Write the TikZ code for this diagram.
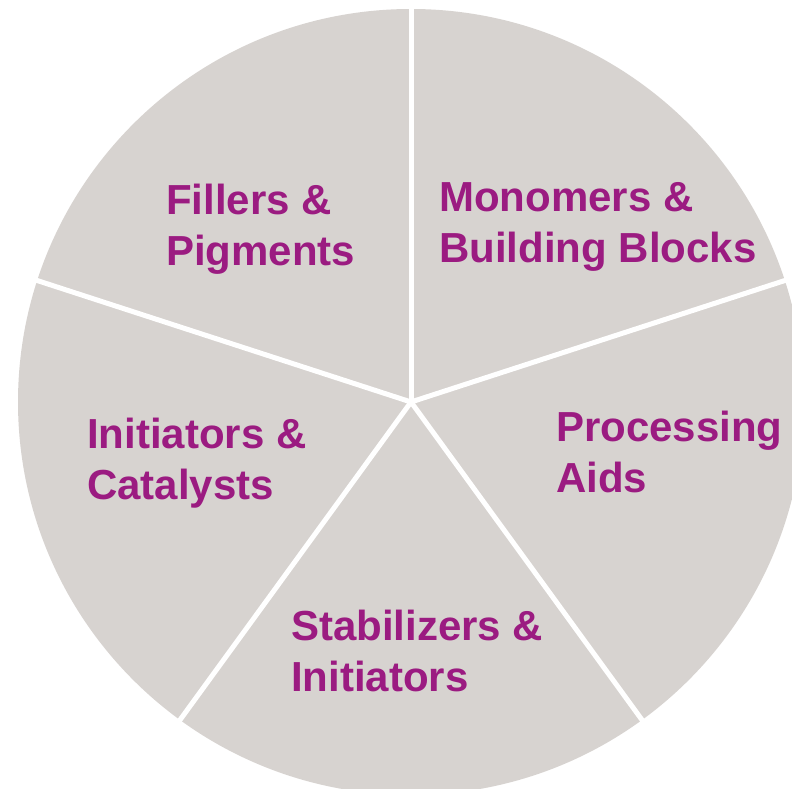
\documentclass[tikz,border=0pt]{standalone}
\usepackage{fontspec}
\setmainfont{Liberation Sans}
\definecolor{piegray}{HTML}{D7D3D0}
\definecolor{labelpurple}{HTML}{9B1B81}
\begin{document}
\begin{tikzpicture}[x=1pt,y=1pt,
  sector/.style={fill=piegray},
  divider/.style={draw=white,line width=5pt},
  label/.style={anchor=base west,inner sep=0pt,align=left,text=labelpurple,
    font=\fontsize{42}{51}\selectfont\bfseries}]
\useasboundingbox (0,0) rectangle (792,789);
\clip (0,0) rectangle (792,789);
\coordinate (c) at (411,387);
\fill[sector] (c) circle (393);
\foreach \a/\n in {90/p1,18/p2,-54/p3,-126/p4,162/p5}{
  \coordinate (\n) at ([shift={(\a:400)}]c);
}
\draw[divider] (c) -- (p1);
\draw[divider] (c) -- (p2);
\draw[divider] (c) -- (p3);
\draw[divider] (c) -- (p4);
\draw[divider] (c) -- (p5);
\node[label] (fill) at (166,523) {Fillers \&\\Pigments};
\node[label] (mono) at (439,526) {Monomers \&\\Building Blocks};
\node[label] (proc) at (556,296) {Processing\\Aids};
\node[label] (init) at (87,289) {Initiators \&\\Catalysts};
\node[label] (stab) at (291,97) {Stabilizers \&\\Initiators};
\end{tikzpicture}
\end{document}
